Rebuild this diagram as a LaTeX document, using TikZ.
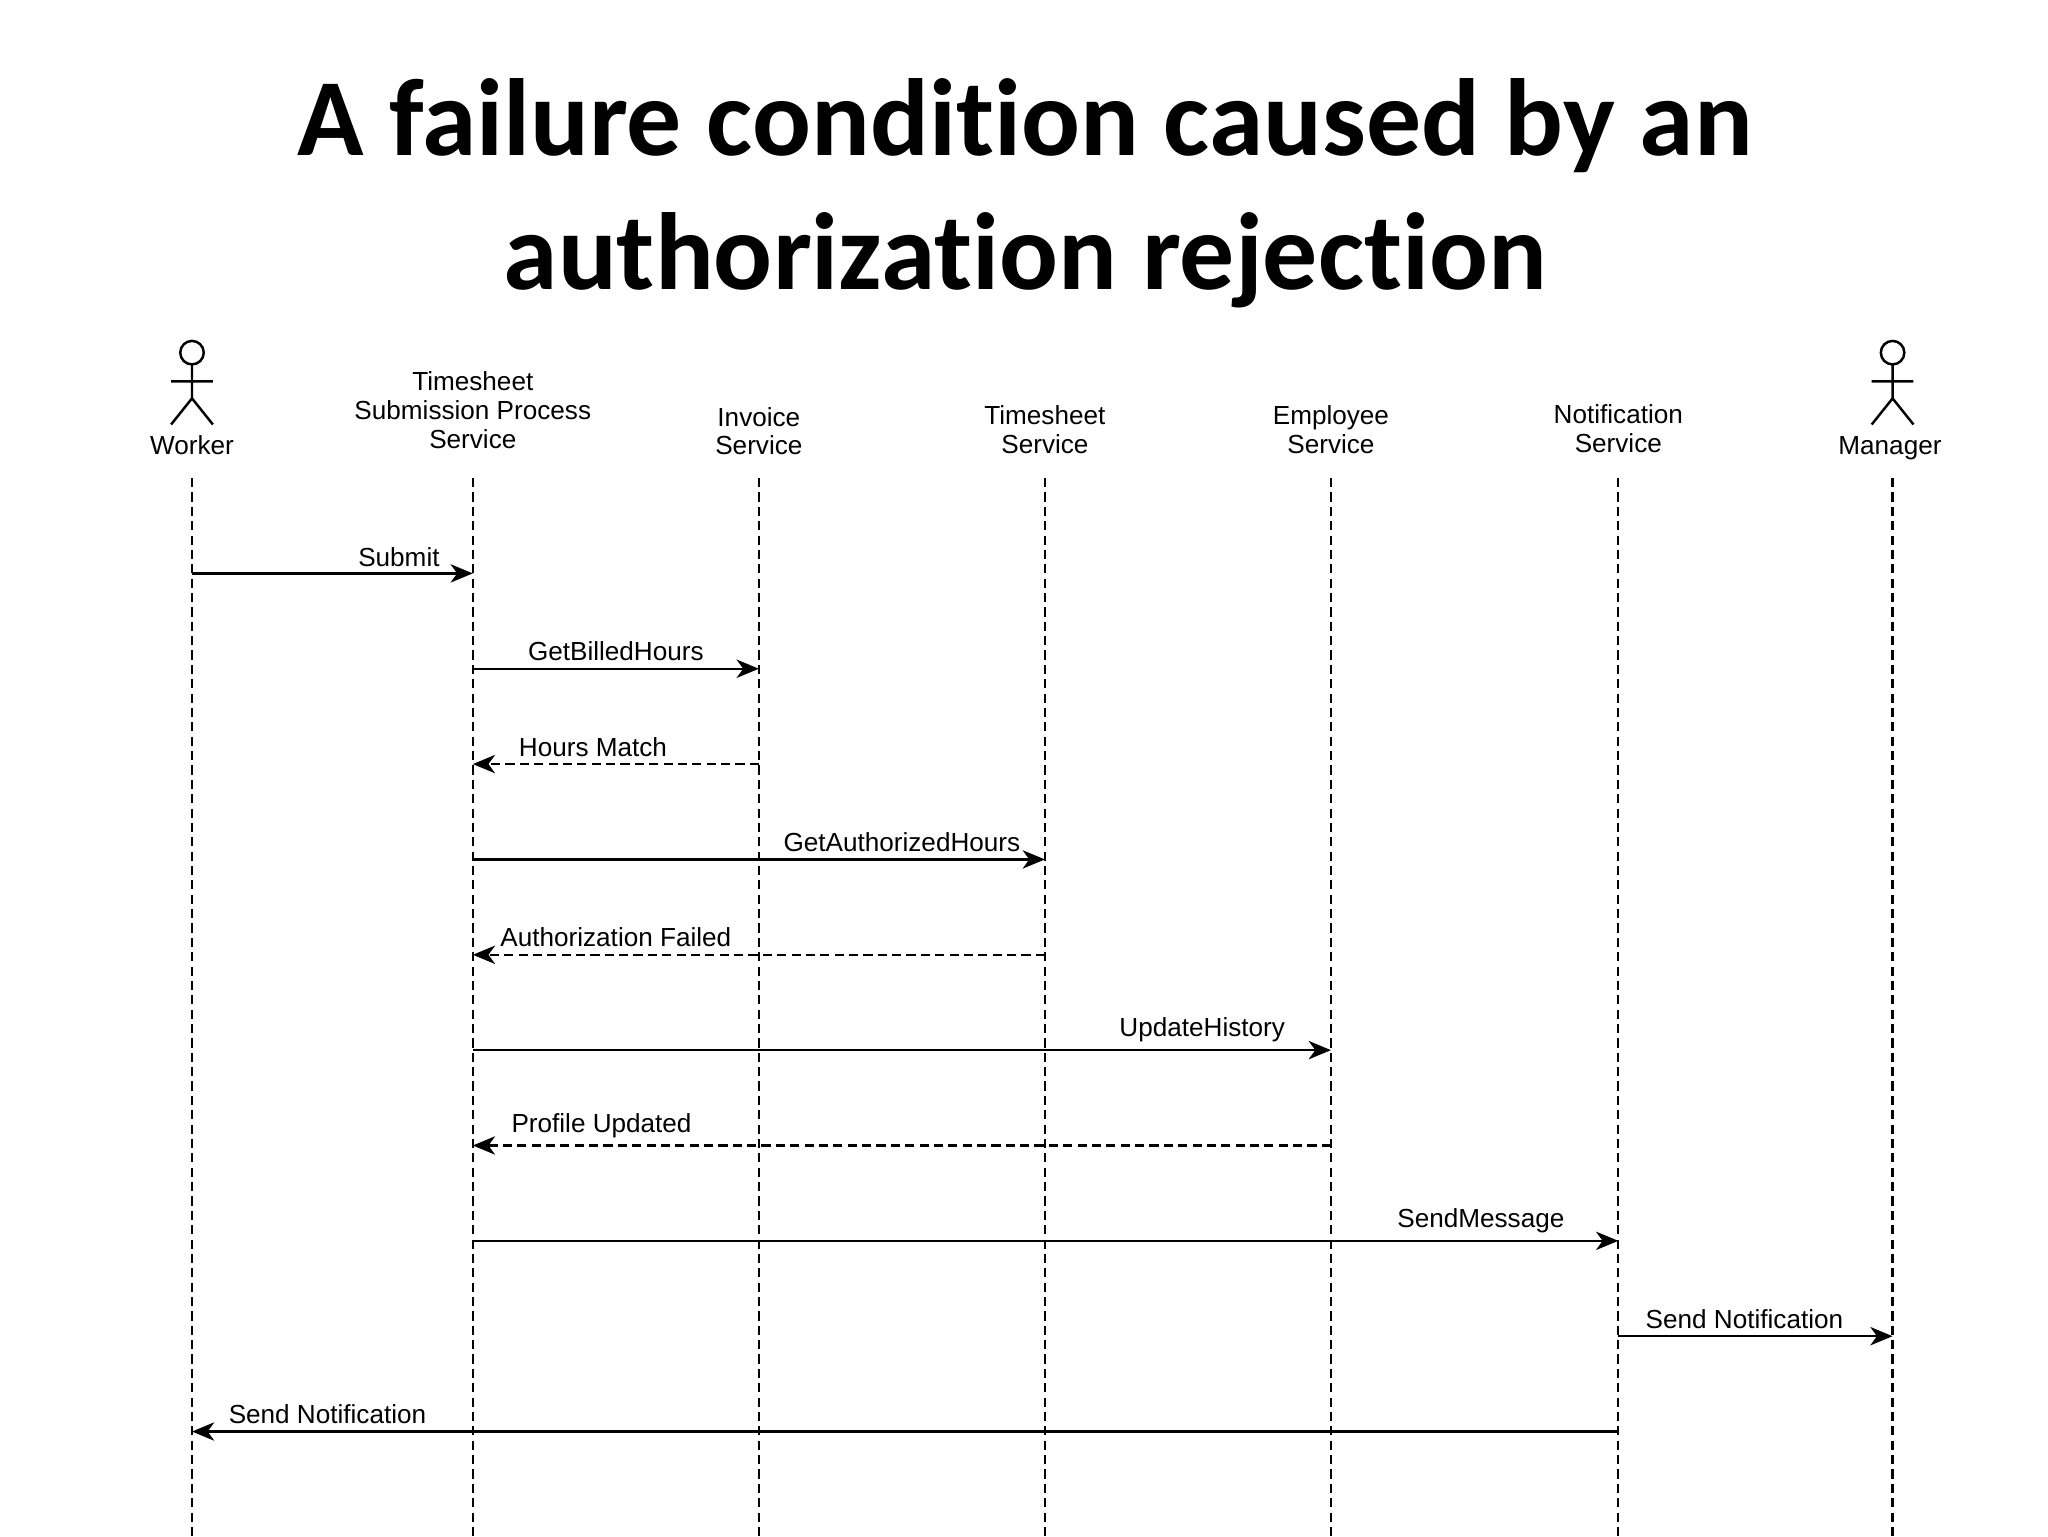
\documentclass[tikz,border=0pt]{standalone}
\usepackage{fontspec}
\setmainfont{Liberation Sans}
\newfontfamily\titlefont[Ligatures={NoCommon}]{Carlito}
\usetikzlibrary{arrows.meta}
\begin{document}
\begin{tikzpicture}[x=1pt,y=-1pt,
  life/.style={line width=1.8pt,dash pattern=on 7pt off 4pt},
  msg/.style={line width=1.9pt,-{Stealth[length=17pt,width=14pt,inset=5pt]}},
  ret/.style={msg,dash pattern=on 7pt off 4pt},
  lbl/.style={font=\fontsize{20}{22}\selectfont,inner sep=1pt},
  actor/.style={line width=1.9pt}]
\useasboundingbox (0,0) rectangle (1568,1176);
\node[font=\titlefont\bfseries\fontsize{84}{102}\selectfont,align=center] (title) at (785,148) {A failure condition caused by an\\authorization rejection};
% actors
\foreach \n/\x in {w/147,m/1449}{
  \draw[actor] (\x,270) circle (9);
  \draw[actor] (\x,279) -- (\x,305) (\x-16,292) -- (\x+16,292) (\x-16,325) -- (\x,305) -- (\x+16,325);
}
\node[lbl,align=center] (hw) at (147,341) {Worker};
\node[lbl,align=center] (hm) at (1447,343) {Manager};
\node[lbl,align=center] (ht) at (362,314) {Timesheet\\Submission Process\\Service};
\node[lbl,align=center] (hi) at (581,330) {Invoice\\Service};
\node[lbl,align=center] (hts) at (800,329) {Timesheet\\Service};
\node[lbl,align=center] (he) at (1019,329) {Employee\\Service};
\node[lbl,align=center] (hn) at (1239,328) {Notification\\Service};
% lifelines
\foreach \n/\x in {W/147,T/362,I/581,S/800,E/1019,N/1239,M/1449}{
  \coordinate (\n0) at (\x,366);
  \coordinate (\n1) at (\x,1176);
  \draw[life] (\n0) -- (\n1);
  \foreach \k/\y in {a/439,b/512,c/585,d/658,e/731,f/804,g/877,h/950,i/1023,j/1096}{\coordinate (\n\k) at (\x,\y);}
}
\draw[msg] (Wa) -- (Ta) node[lbl,pos=0.9,above=3pt,anchor=south east,xshift=-2pt] {Submit};
\draw[msg] (Tb) -- (Ib) node[lbl,midway,above=4pt] {GetBilledHours};
\draw[ret] (Ic) -- (Tc) node[lbl,pos=0.58,above=4pt] {Hours Match};
\draw[msg] (Td) -- (Sd) node[lbl,pos=0.75,above=4pt] {GetAuthorizedHours};
\draw[ret] (Se) -- (Te) node[lbl,pos=0.75,above=4pt] {Authorization Failed};
\draw[msg] (Tf) -- (Ef) node[lbl,pos=0.85,above=4pt] {UpdateHistory};
\draw[ret] (Eg) -- (Tg) node[lbl,pos=0.85,above=4pt] {Profile Updated};
\draw[msg] (Th) -- (Nh) node[lbl,pos=0.88,above=4pt] {SendMessage};
\draw[msg] (Ni) -- (Mi) node[lbl,pos=0.46,above=4pt] {Send Notification};
\draw[msg] (Nj) -- (Wj) node[lbl,pos=0.905,above=4pt] {Send Notification};
\end{tikzpicture}
\end{document}
